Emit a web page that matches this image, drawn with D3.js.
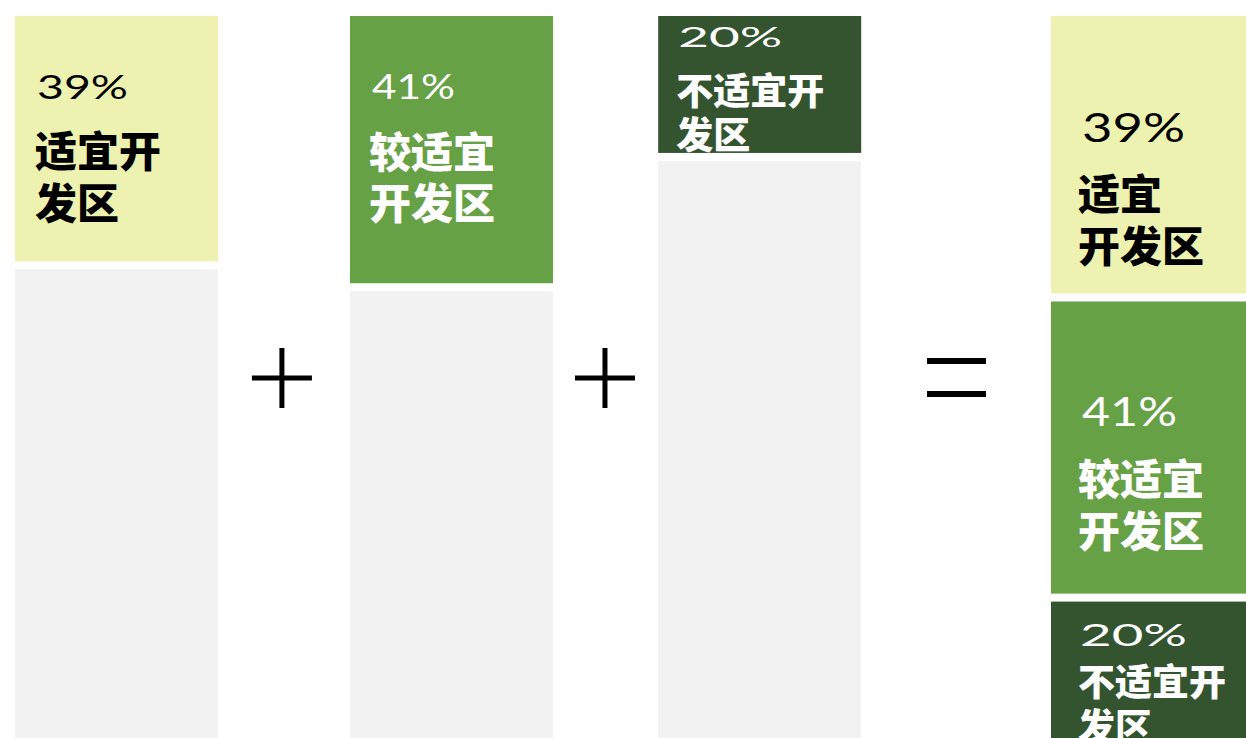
<!DOCTYPE html>
<html>
<head>
<meta charset="utf-8">
<script src="https://cdn.jsdelivr.net/npm/d3@7"></script>
<style>
	html, body { margin: 0; padding: 0; background: #fff; overflow: hidden; }
	.num { font-family: Lato, "DejaVu Sans", sans-serif; font-weight: 400; }
	.zone { font-family: "Noto Sans CJK SC", sans-serif; font-weight: 900; }
</style>
</head>
<body>
<svg id="chart" width="1246" height="738"></svg>
<script>
// data
var zones = ["适宜开发区", "较适宜开发区", "不适宜开发区"];
var shareLabels = ["39%", "41%", "20%"];
var shares = [39, 41, 20];            // stacked column on the right
var columnShown = [34.6, 37.6, 19.8]; // coloured part of the three left columns, as drawn
var total = 100;

var width = 1246, height = 738;
var barWidth = 203;
var gap = 8;

var colors = d3.scaleOrdinal().domain(zones).range(["#edf2b0", "#66a146", "#34542f"]);
var textColors = d3.scaleOrdinal().domain(zones).range(["#000", "#fff", "#fff"]);

var svg = d3.select("#chart");

// layout in slot units: column, +, column, +, column, =, stacked column
var x = d3.scaleLinear().domain([0, 6]).range([116.5, 1152.5]);
var columnSlots = [0, 1.94, 3.725, 6];
var plusSlots = [0.958, 2.829];
var equalSlot = 4.865;

var y = d3.scaleLinear().domain([0, total]).range([16, 748]);

// segments: the three single columns (colour + grey rest), then the stacked one
var segments = [];
zones.forEach(function (z, i) {
	segments.push({ col: i, zone: z, start: 0, end: columnShown[i], fill: colors(z), label: true });
	segments.push({ col: i, zone: null, start: columnShown[i], end: total, fill: "#f2f2f2", label: false });
});
var acc = 0;
zones.forEach(function (z, i) {
	segments.push({ col: 3, zone: z, start: acc, end: acc + shares[i], fill: colors(z), label: true });
	acc += shares[i];
});

svg.selectAll(".seg")
	.data(segments)
	.enter()
	.append("rect")
	.attr("class", "seg")
	.attr("x", function (d) { return x(columnSlots[d.col]) - barWidth / 2; })
	.attr("y", function (d) { return y(d.start); })
	.attr("width", barWidth)
	.attr("height", function (d) { return y(d.end) - y(d.start) - gap; })
	.attr("fill", function (d) { return d.fill; });

// label placement per labelled segment (text offsets from segment top-left)
var labelStyle = [
	{ nx: 22, ny: 83, ns: 33, nw: 91, cx: 20, cy: [151, 203], cs: 42, lines: ["适宜开", "发区"] },
	{ nx: 22, ny: 83, ns: 35, nw: 83, cx: 19, cy: [152, 203], cs: 42, lines: ["较适宜", "开发区"] },
	{ nx: 20, ny: 31, ns: 26, nw: 104, cx: 18, cy: [89, 133], cs: 37, lines: ["不适宜开", "发区"] },
	{ nx: 31, ny: 126, ns: 40, nw: 103, cx: 27, cy: [194, 246], cs: 42, lines: ["适宜", "开发区"] },
	{ nx: 31, ny: 125, ns: 41, nw: 95, cx: 27, cy: [194, 246], cs: 42, lines: ["较适宜", "开发区"] },
	{ nx: 29, ny: 44, ns: 30, nw: 107, cx: 27, cy: [94, 139], cs: 37, lines: ["不适宜开", "发区"] }
];

var labelled = segments.filter(function (d) { return d.label; });
labelled.forEach(function (d, k) {
	var st = labelStyle[k];
	var i = zones.indexOf(d.zone);
	var x0 = x(columnSlots[d.col]) - barWidth / 2;
	var y0 = y(d.start);
	var g = svg.append("g").attr("fill", textColors(d.zone));

	g.append("text")
		.attr("class", "num")
		.attr("x", x0 + st.nx)
		.attr("y", y0 + st.ny)
		.attr("font-size", st.ns)
		.attr("textLength", st.nw)
		.attr("lengthAdjust", "spacingAndGlyphs")
		.text(shareLabels[i]);

	g.selectAll(".zone")
		.data(st.lines)
		.enter()
		.append("text")
		.attr("class", "zone")
		.attr("x", x0 + st.cx)
		.attr("y", function (l, j) { return y0 + st.cy[j]; })
		.attr("font-size", st.cs)
		.text(function (l) { return l; });
});

// operators
var opY = 378;
plusSlots.forEach(function (s) {
	var cx = x(s);
	svg.append("rect").attr("x", cx - 30).attr("y", opY - 2.5).attr("width", 60).attr("height", 5).attr("fill", "#000");
	svg.append("rect").attr("x", cx - 2.5).attr("y", opY - 30).attr("width", 5).attr("height", 60).attr("fill", "#000");
});
var ex = x(equalSlot);
[361, 394].forEach(function (ly) {
	svg.append("rect").attr("x", ex - 29.5).attr("y", ly - 3).attr("width", 59).attr("height", 6).attr("fill", "#000");
});
</script>
</body>
</html>
